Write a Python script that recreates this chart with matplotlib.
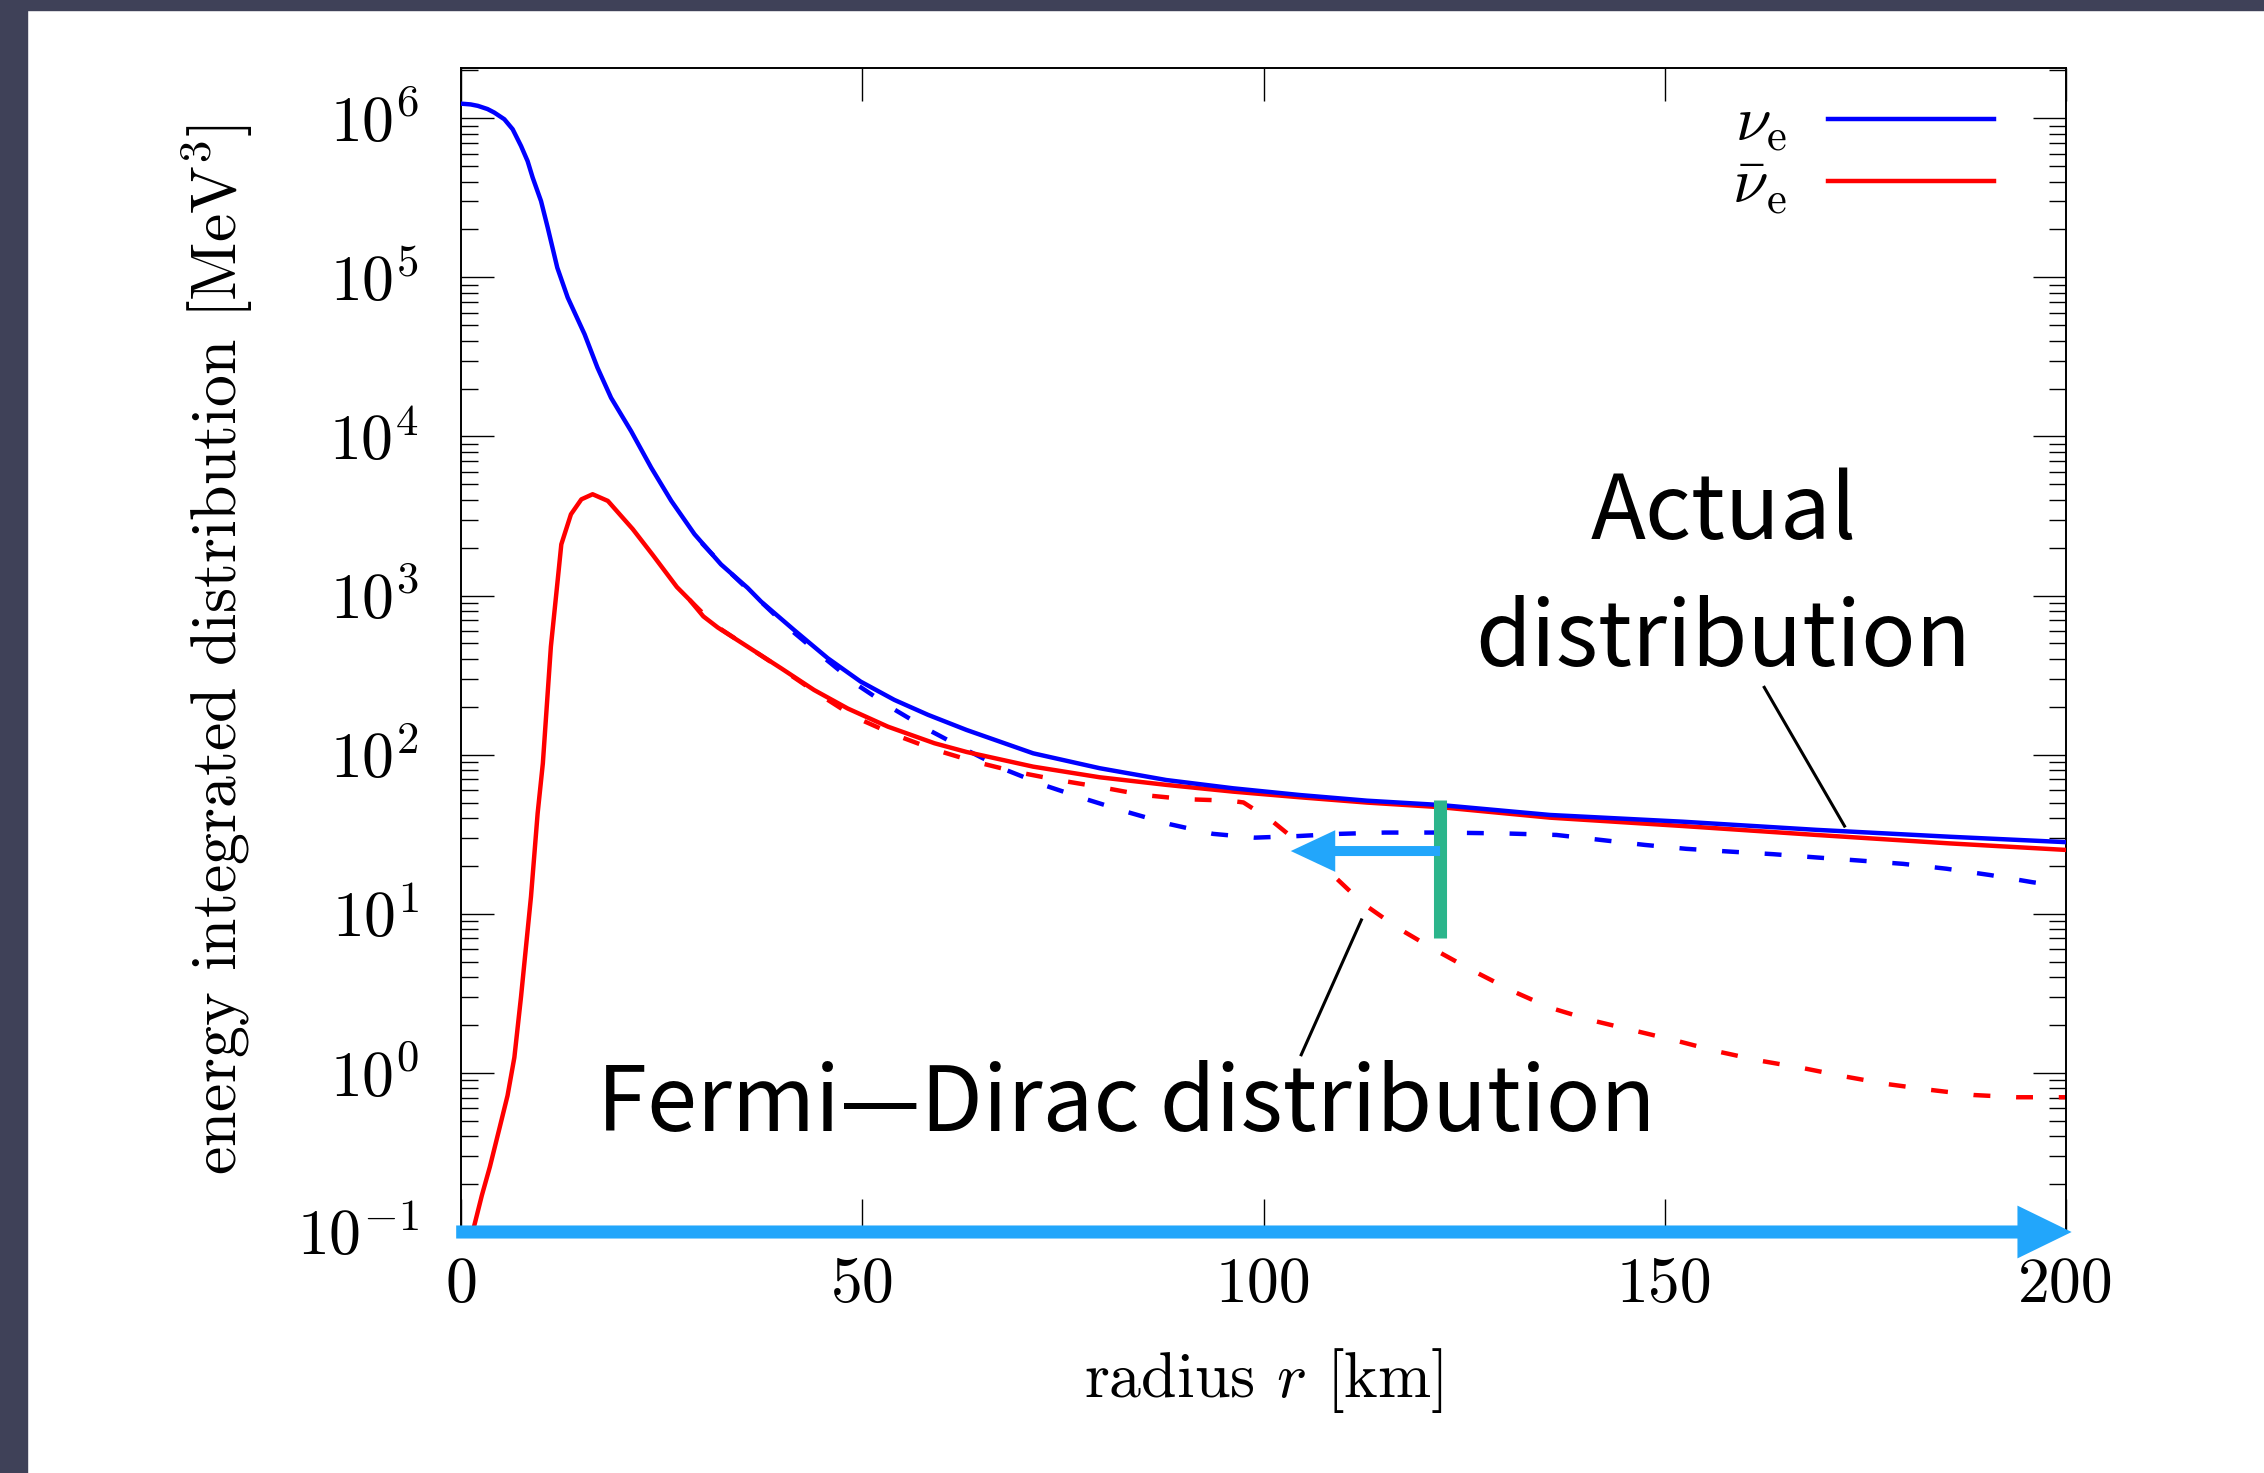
"""
Energy integrated distribution of nu_e / anti-nu_e versus radius,
actual distribution (solid) vs. Fermi-Dirac fit (dashed).
"""

import numpy as np
import matplotlib
matplotlib.use('Agg')
import matplotlib.pyplot as plt
from matplotlib.patches import Rectangle, FancyArrowPatch
from matplotlib.ticker import LogLocator, FuncFormatter, NullFormatter


plt.rcParams['font.family'] = 'serif'
plt.rcParams['font.serif'] = ['cmr10']
plt.rcParams['mathtext.fontset'] = 'cm'
plt.rcParams['axes.formatter.use_mathtext'] = True

# actual distribution, nu_e
r_nue = [0, 1.2, 2.1, 3.3, 4.15, 5.4, 6.44, 7.48, 8.3, 8.93, 9.97, 10.8, 12.0,
         13.3, 15.4, 17.0, 18.7, 21.2, 23.7, 26.2, 29.1, 32.4, 35.7, 37.4, 41.5,
         45.7, 49.8, 54.0, 58.2, 63.0, 71.3, 79.6, 87.9, 96.2, 104.5, 112.9,
         122, 135.7, 152.3, 168.9, 185.5, 200]
f_nue = [1.236e6, 1.222e6, 1.197e6, 1.143e6, 1.086e6, 9.86e5, 8.53e5, 6.70e5,
         5.38e5, 4.24e5, 3.02e5, 2.06e5, 1.15e5, 7.46e4, 4.39e4, 2.71e4, 1.75e4,
         1.08e4, 6370, 3940, 2430, 1570, 1120, 916, 608, 404, 288, 221, 178, 143,
         102, 82.2, 69.3, 61.5, 55.8, 51.4, 48.3, 41.8, 37.9, 33.7, 30.5, 28.2]

# actual distribution, anti nu_e
r_nub = [1.0, 1.6, 2.6, 3.6, 4.8, 5.8, 6.65, 7.48, 8.1, 8.72, 9.55, 10.2, 11.2,
         12.05, 12.5, 13.7, 15.0, 16.4, 18.3, 21.4, 23.9, 26.9, 28.5, 30.2,
         32.0, 35.7, 39.9, 44.0, 48.2, 53.2, 59.0, 63.0, 71.3, 79.6, 87.9, 96.2,
         104.5, 112.9, 122, 135.7, 152.3, 168.9, 185.5, 200]
f_nub = [0.0708, 0.107, 0.17, 0.257, 0.45, 0.72, 1.25, 3.01, 6.21, 12.8, 42.8,
         88.3, 478, 1253, 2099, 3243, 4027, 4335, 3936, 2618, 1799, 1132, 938,
         740, 630, 478, 349, 255, 195, 150, 118, 104, 84.1, 72.1, 64.6, 58.6,
         54.0, 50.0, 46.8, 40.2, 35.6, 31.3, 27.7, 25.2]

# Fermi-Dirac distribution, nu_e
r_fd_nue = [30, 33, 37.4, 41.1, 45.3, 49.4, 53.8, 58.4, 63.0, 67.9, 72.9, 77.9,
            83.1, 88.3, 93.7, 98.9, 104.3, 109.5, 115.1, 122, 130, 136.5, 142.1,
            147.5, 152.7, 158.1, 163.5, 168.9, 174.3, 179.7, 185.1, 190.6,
            195.8, 199]
f_fd_nue = [2138, 1479, 912, 608, 404, 274, 195, 142, 107, 80.2, 63.7, 52.5,
            43.5, 36.6, 31.8, 30.1, 30.8, 31.8, 32.4, 32.4, 32.0, 31.3, 29.1,
            27.1, 25.6, 24.6, 23.7, 22.6, 21.6, 20.6, 19.2, 17.5, 15.8, 15.0]

# Fermi-Dirac distribution, anti nu_e
r_fd_nub = [28.5, 31.6, 35.7, 39.9, 44.0, 49.0, 53.8, 58.9, 63.8, 69.0, 74.4,
            79.8, 85.0, 90.4, 95.8, 97.5, 100.9, 104.5, 108.3, 112.4, 116.8,
            121.4, 125.9, 131.2, 135.7, 140.9, 146.1, 151.3, 156.7, 162.0, 167.3,
            172.5, 177.7, 183.1, 188.5, 193.9, 200]
f_fd_nub = [938, 653, 478, 347, 251, 173, 135, 108, 91.0, 78.3, 69.3, 62.4,
            55.8, 52.5, 51.4, 50.1, 38.9, 27.7, 18.2, 11.6, 8.11, 5.92, 4.44,
            3.24, 2.57, 2.14, 1.85, 1.60, 1.36, 1.19, 1.07, 0.948, 0.851, 0.782,
            0.726, 0.703, 0.703]

x_ticks = [0, 50, 100, 150, 200]

# overlay marks
r_switch = 122.0
switch_span = (7.0, 52.0)
r_arrow_tip = 103.4
f_arrow = 24.8
range_arrow = (-0.6, 200.7)
f_range = 0.1
actual_ptr = ([162.4, 172.4], [265, 35.6])
fd_ptr = ([104.7, 112.2], [1.30, 9.15])

BLUE = '#0000ff'
RED = '#ff0000'
ARROW = '#22a6fb'
GREEN = '#2bb58b'
BORDER = '#3f4158'
JP = 'Noto Sans CJK JP'


def block_arrow(ax, start, end, tail, head_w, head_l):
    style = f'simple,head_length={head_l},head_width={head_w},tail_width={tail}'
    arr = FancyArrowPatch(start, end, transform=ax.transData, arrowstyle=style,
                          mutation_scale=1, fc=ARROW, ec='none', lw=0,
                          shrinkA=0, shrinkB=0, clip_on=False, zorder=6)
    ax.add_patch(arr)


def main():
    fig = plt.figure(figsize=(22.64, 14.73), dpi=100)
    fig.patches.append(Rectangle((0, 0), 27/2264, 1, transform=fig.transFigure,
                                 color=BORDER, zorder=0))
    fig.patches.append(Rectangle((0, 1 - 10/1473), 1, 10/1473,
                                 transform=fig.transFigure, color=BORDER, zorder=0))

    ax = fig.add_axes([461/2264, 241/1473, 1605/2264, 1164/1473])

    lw = 3.2
    dash = (3.8, 5.8)
    ax.plot(r_fd_nub, f_fd_nub, color=RED, lw=lw, dashes=dash, zorder=2)
    ax.plot(r_fd_nue, f_fd_nue, color=BLUE, lw=lw, dashes=dash, zorder=2)
    l_nub, = ax.plot(r_nub, f_nub, color=RED, lw=lw, zorder=3)
    l_nue, = ax.plot(r_nue, f_nue, color=BLUE, lw=lw, zorder=3)

    ax.set_yscale('log')
    ax.set_xlim(0, 200)
    ax.set_ylim(0.1, 10**6.316)

    ax.set_xticks(x_ticks)
    ax.set_xticklabels([str(t) for t in x_ticks])
    ax.yaxis.set_major_locator(LogLocator(base=10, numticks=20))
    ax.yaxis.set_minor_locator(LogLocator(base=10, subs=np.arange(2, 10), numticks=20))
    ax.yaxis.set_major_formatter(FuncFormatter(lambda v, p: r'$10^{%d}$' % round(np.log10(v))))
    ax.yaxis.set_minor_formatter(NullFormatter())
    ax.tick_params(which='both', direction='in', top=True, right=True, width=1.0)
    ax.tick_params(which='major', length=24, labelsize=46)
    ax.tick_params(which='minor', length=12)
    ax.tick_params(axis='y', pad=30)
    ax.tick_params(axis='x', pad=18)
    for s in ax.spines.values():
        s.set_linewidth(1.4)

    ax.set_xlabel('radius $r$ [km]', fontsize=46, labelpad=22)
    ax.set_ylabel('energy integrated distribution [MeV$^3$]', fontsize=46, labelpad=30)

    ax.legend(handles=[l_nue, l_nub],
              labels=[r'$\nu_{\rm e}$', r'$\bar{\nu}_{\rm e}$'],
              loc='upper right', bbox_to_anchor=(0.955, 0.976), frameon=False,
              fontsize=46, markerfirst=False, handlelength=2.6,
              handletextpad=0.64, labelspacing=0.06, borderpad=0, borderaxespad=0)

    # switch marker and arrows
    ax.plot([r_switch, r_switch], switch_span, color=GREEN, lw=9.4,
            solid_capstyle='butt', zorder=5)
    block_arrow(ax, (r_switch, f_arrow), (r_arrow_tip, f_arrow), 7.2, 30, 32)
    block_arrow(ax, (range_arrow[0], f_range), (range_arrow[1], f_range), 9.4, 38, 39)

    # annotations
    ax.plot(*actual_ptr, color='k', lw=2.2, zorder=4)
    ax.plot(*fd_ptr, color='k', lw=2.2, zorder=4)
    ax.text(157.3, 1310, 'Actual\ndistribution', ha='center', va='center',
            fontsize=65, family=JP, linespacing=1.48)
    ax.text(82.9, 0.431, 'Fermi—Dirac distribution', ha='center', va='baseline',
            fontsize=65, family=JP)

    fig.savefig('out.png', dpi=100)


if __name__ == '__main__':
    main()
